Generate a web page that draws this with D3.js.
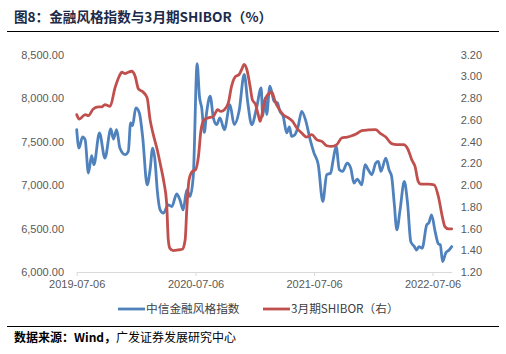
<!DOCTYPE html>
<html>
<head>
<meta charset="utf-8">
<script src="https://cdn.jsdelivr.net/npm/d3@7"></script>
<style>
  html, body { margin: 0; padding: 0; background: #fff; }
  svg { display: block; }
</style>
</head>
<body>
<svg id="chart" width="506" height="354"></svg>
<script>
// ---- Data ----
const title = "图8：金融风格指数与3月期SHIBOR（%）";
const sourceLead = "数据来源：Wind，";
const sourceRest = "广发证券发展研究中心";
const seriesNames = ["中信金融风格指数", "3月期SHIBOR（右）"];

const xTickLabels = ["2019-07-06", "2020-07-06", "2021-07-06", "2022-07-06"];
const leftTicks = [6000, 6500, 7000, 7500, 8000, 8500];
const rightTicks = [1.2, 1.4, 1.6, 1.8, 2.0, 2.2, 2.4, 2.6, 2.8, 3.0, 3.2];

const indexDates = [
  "2019-07-06","2019-07-13","2019-07-24","2019-08-01","2019-08-11","2019-08-21","2019-08-28","2019-09-14",
  "2019-10-01","2019-10-19","2019-10-27","2019-11-06","2019-11-16","2019-12-02","2019-12-12","2019-12-19",
  "2019-12-25","2020-01-04","2020-01-15","2020-01-25","2020-02-08","2020-02-17","2020-02-25","2020-03-03",
  "2020-03-10","2020-03-19","2020-03-29","2020-04-13","2020-04-24","2020-05-09","2020-05-19","2020-05-29",
  "2020-06-09","2020-06-19","2020-06-29","2020-07-11","2020-07-18","2020-07-25","2020-08-02","2020-08-09",
  "2020-08-20","2020-08-30","2020-09-09","2020-09-19","2020-10-03","2020-10-20","2020-11-02","2020-11-17",
  "2020-12-03","2020-12-14","2020-12-26","2021-01-10","2021-01-24","2021-01-29","2021-02-05","2021-02-10",
  "2021-02-20","2021-03-05","2021-03-15","2021-03-23","2021-04-02","2021-04-13","2021-04-21","2021-04-28",
  "2021-05-08","2021-05-18","2021-05-29","2021-06-11","2021-06-24","2021-07-06","2021-07-19","2021-08-02",
  "2021-08-14","2021-08-26","2021-09-03","2021-09-12","2021-09-22","2021-10-02","2021-10-16","2021-10-27",
  "2021-11-06","2021-11-16","2021-11-30","2021-12-10","2021-12-20","2021-12-31","2022-01-12","2022-01-20",
  "2022-01-28","2022-02-12","2022-02-22","2022-03-02","2022-03-10","2022-03-18","2022-03-28","2022-04-10",
  "2022-04-20","2022-04-30","2022-05-11","2022-05-18","2022-05-25","2022-06-04","2022-06-18","2022-06-25",
  "2022-07-03","2022-07-14","2022-07-24","2022-07-30","2022-08-06","2022-08-16","2022-08-26","2022-09-03"
];
const indexValues = [
  7636,7425,7552,7520,7137,7336,7233,7598,
  7310,7644,7529,7636,7425,7348,7386,7713,
  7682,7886,7828,7559,7002,7175,7425,7290,
  6945,6714,6676,6772,6752,6899,6829,6714,
  6945,6868,7098,8396,8020,7886,7605,7828,
  8020,7771,7693,7771,7636,7924,7693,7847,
  8270,7944,7693,7886,8116,7789,8001,7809,
  8135,7962,7944,7847,7789,7598,7667,7559,
  7578,7674,7847,7732,7521,7367,7233,6810,
  7118,7137,7290,7444,7175,7156,7252,7194,
  7022,7068,7002,7233,7175,7118,7252,7271,
  7156,7310,7175,7098,6791,6484,6714,7040,
  6791,6349,6292,6253,6292,6273,6541,6568,
  6657,6464,6323,6311,6119,6222,6253,6292
];

const shiborDates = [
  "2019-07-06","2019-07-14","2019-08-01","2019-08-11","2019-08-26","2019-09-11","2019-09-21","2019-10-01",
  "2019-10-17","2019-11-01","2019-11-14","2019-11-22","2019-12-02","2019-12-12","2019-12-22","2020-01-02",
  "2020-01-12","2020-01-27","2020-02-08","2020-02-17","2020-02-27","2020-03-10","2020-03-21","2020-03-31",
  "2020-04-08","2020-04-13","2020-04-18","2020-04-29","2020-05-14","2020-05-26","2020-06-04","2020-06-09",
  "2020-06-16","2020-06-26","2020-07-06","2020-07-15","2020-07-23","2020-08-02","2020-08-14","2020-08-30",
  "2020-09-12","2020-09-22","2020-10-03","2020-10-15","2020-10-25","2020-11-05","2020-11-17","2020-11-25",
  "2020-12-03","2020-12-11","2020-12-21","2020-12-28","2021-01-07","2021-01-15","2021-01-21","2021-01-31",
  "2021-02-10","2021-02-26","2021-03-08","2021-03-18","2021-04-02","2021-04-18","2021-05-01","2021-05-14",
  "2021-05-29","2021-06-13","2021-06-29","2021-07-14","2021-07-30","2021-08-14","2021-08-29","2021-09-14",
  "2021-09-29","2021-10-16","2021-10-30","2021-11-14","2021-11-30","2021-12-20","2022-01-12","2022-01-25",
  "2022-02-12","2022-03-02","2022-03-18","2022-04-07","2022-04-22","2022-05-03","2022-05-13","2022-05-23",
  "2022-05-31","2022-06-23","2022-07-11","2022-07-24","2022-08-05","2022-08-13","2022-08-24","2022-09-03"
];
const shiborValues = [
  2.647,2.607,2.647,2.638,2.699,2.718,2.718,2.739,
  2.724,2.893,3.000,3.037,3.025,3.037,3.046,3.000,
  2.884,2.853,2.801,2.601,2.463,2.324,2.171,2.018,
  1.833,1.500,1.418,1.396,1.403,1.409,1.495,1.771,
  2.048,2.124,2.140,2.263,2.509,2.601,2.617,2.631,
  2.693,2.677,2.693,2.755,2.908,2.995,3.016,3.062,
  3.108,3.062,2.908,2.785,2.739,2.647,2.585,2.720,
  2.816,2.853,2.769,2.709,2.647,2.617,2.585,2.524,
  2.478,2.441,2.463,2.417,2.401,2.361,2.355,2.371,
  2.432,2.441,2.453,2.472,2.500,2.506,2.509,2.478,
  2.441,2.380,2.371,2.371,2.324,2.232,2.171,2.032,
  2.008,2.008,2.002,1.894,1.710,1.618,1.596,1.596
];

const colors = ["#4F81BD", "#C0504D"];

// ---- Chart ----
const parse = d3.timeParse("%Y-%m-%d");
const svg = d3.select("#chart");
const plot = { left: 76.7, right: 451.7, top: 54.5, bottom: 272 };

const x = d3.scaleTime()
  .domain([parse("2019-07-06"), parse("2022-09-03")])
  .range([plot.left, plot.right]);
const yL = d3.scaleLinear().domain([6000, 8500]).range([plot.bottom, plot.top]);
const yR = d3.scaleLinear().domain([1.2, 3.2]).range([plot.bottom, plot.top]);

const sans = "'Liberation Sans', Arial, sans-serif";
const cjk = "'Noto Sans CJK SC', 'Noto Sans', sans-serif";

// Title
svg.append("text")
  .attr("x", 14).attr("y", 22)
  .attr("font-family", cjk).attr("font-size", 13.6).attr("font-weight", "bold")
  .attr("fill", "#1b2a48")
  .text(title);
svg.append("line").attr("x1", 7).attr("x2", 499).attr("y1", 31.5).attr("y2", 31.5)
  .attr("stroke", "#000").attr("stroke-width", 1.2);

// Left axis
const gL = svg.append("g").attr("transform", `translate(${plot.left},0)`)
  .call(d3.axisLeft(yL).tickValues(leftTicks).tickFormat(d3.format(",.2f")).tickSize(0).tickPadding(12.7));
gL.select(".domain").remove();
gL.selectAll("text").attr("font-family", sans).attr("font-size", 11).attr("fill", "#595959");

// Right axis
const gR = svg.append("g").attr("transform", `translate(${plot.right},0)`)
  .call(d3.axisRight(yR).tickValues(rightTicks).tickFormat(d3.format(".2f")).tickSize(0).tickPadding(9));
gR.select(".domain").remove();
gR.selectAll("text").attr("font-family", sans).attr("font-size", 11).attr("fill", "#595959");

// Bottom axis
const gB = svg.append("g").attr("transform", `translate(0,${plot.bottom})`)
  .call(d3.axisBottom(x).tickValues(xTickLabels.map(parse)).tickFormat(d3.timeFormat("%Y-%m-%d")).tickSizeInner(4).tickSizeOuter(0).tickPadding(4));
gB.select(".domain").attr("stroke", "#d9d9d9").attr("stroke-width", 1.2);
gB.selectAll(".tick line").attr("stroke", "#d9d9d9");
gB.selectAll("text").attr("font-family", sans).attr("font-size", 11).attr("fill", "#595959");

// Lines
const indexData = indexDates.map((d, i) => ({ date: parse(d), value: indexValues[i] }));
const shiborData = shiborDates.map((d, i) => ({ date: parse(d), value: shiborValues[i] }));

const lineL = d3.line().x(d => x(d.date)).y(d => yL(d.value)).curve(d3.curveMonotoneX);
const lineR = d3.line().x(d => x(d.date)).y(d => yR(d.value)).curve(d3.curveMonotoneX);

svg.append("path").datum(indexData).attr("d", lineL)
  .attr("fill", "none").attr("stroke", colors[0]).attr("stroke-width", 2.8)
  .attr("stroke-linejoin", "round").attr("stroke-linecap", "round");
svg.append("path").datum(shiborData).attr("d", lineR)
  .attr("fill", "none").attr("stroke", colors[1]).attr("stroke-width", 2.8)
  .attr("stroke-linejoin", "round").attr("stroke-linecap", "round");

// Legend
const legendItems = [
  { x1: 118, x2: 145, tx: 146 },
  { x1: 263, x2: 290, tx: 291 }
];
legendItems.forEach((it, i) => {
  svg.append("line").attr("x1", it.x1).attr("x2", it.x2).attr("y1", 309).attr("y2", 309)
    .attr("stroke", colors[i]).attr("stroke-width", 2.8);
  svg.append("text").attr("x", it.tx).attr("y", 313)
    .attr("font-family", cjk).attr("font-size", 11.7).attr("fill", "#404040")
    .text(seriesNames[i]);
});

// Source
svg.append("line").attr("x1", 7).attr("x2", 499).attr("y1", 326.5).attr("y2", 326.5)
  .attr("stroke", "#000").attr("stroke-width", 1.2);
const src = svg.append("text")
  .attr("x", 14).attr("y", 342)
  .attr("font-family", cjk).attr("font-size", 12)
  .attr("fill", "#000");
src.append("tspan").attr("font-weight", "bold").text(sourceLead);
src.append("tspan").text(sourceRest);
</script>
</body>
</html>
